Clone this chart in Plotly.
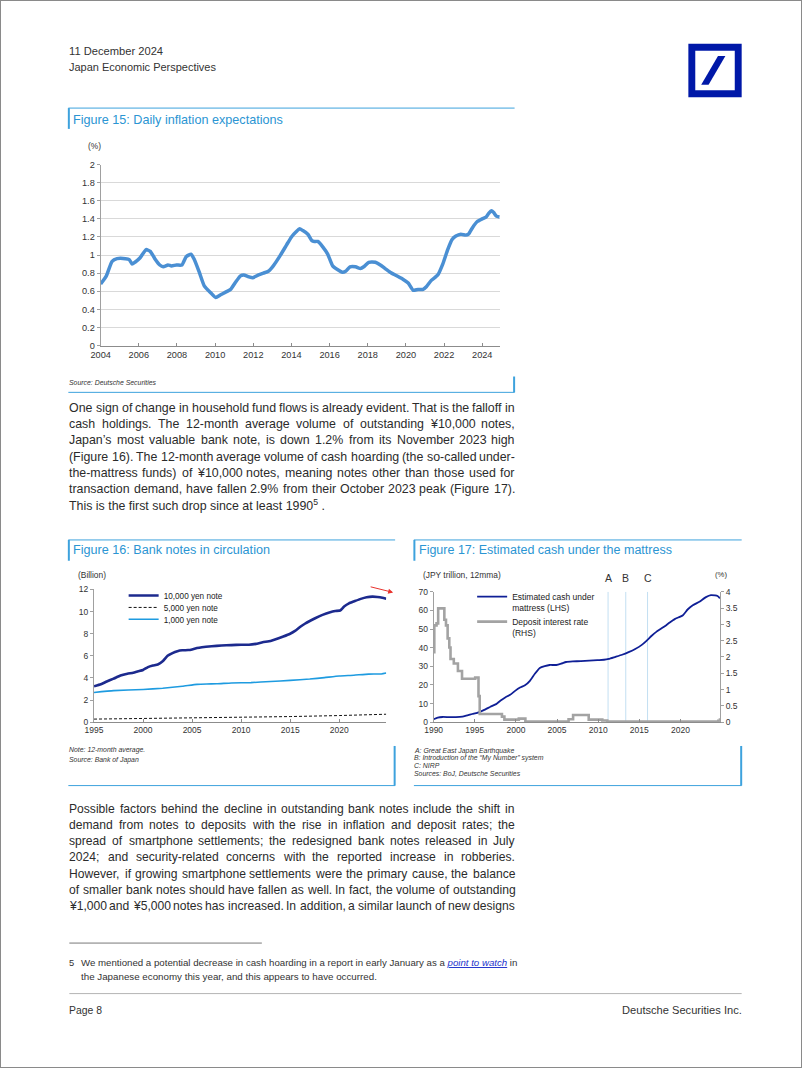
import re
import plotly.graph_objects as go

# ---------------- DATA ----------------
# Figure 15: daily inflation expectations (%)
infl_year = [2004.0, 2004.3, 2004.6, 2004.86, 2005.3, 2005.5, 2005.65, 2005.8, 2006.07, 2006.38,
             2006.6, 2006.84, 2007.1, 2007.28, 2007.53, 2007.71, 2007.97, 2008.26, 2008.48, 2008.74,
             2008.91, 2009.17, 2009.43, 2009.78, 2010.03, 2010.29, 2010.55, 2010.81, 2011.07, 2011.33,
             2011.5, 2011.76, 2011.97, 2012.28, 2012.53, 2012.79, 2013.05, 2013.4, 2013.74, 2014.0,
             2014.26, 2014.43, 2014.6, 2014.86, 2015.07, 2015.2, 2015.38, 2015.64, 2015.9, 2016.16,
             2016.41, 2016.67, 2016.84, 2017.07, 2017.36, 2017.62, 2017.79, 2018.05, 2018.4, 2018.66,
             2018.91, 2019.17, 2019.52, 2019.86, 2020.12, 2020.38, 2020.64, 2020.9, 2021.07, 2021.33,
             2021.67, 2021.93, 2022.19, 2022.41, 2022.62, 2022.88, 2023.14, 2023.28, 2023.48, 2023.74,
             2024.0, 2024.2, 2024.34, 2024.48, 2024.6, 2024.74, 2024.91]
infl_value = [0.68, 0.77, 0.93, 0.96, 0.96, 0.95, 0.90, 0.92, 0.97, 1.06,
              1.04, 0.96, 0.89, 0.87, 0.89, 0.88, 0.89, 0.89, 0.98, 1.01,
              0.95, 0.81, 0.66, 0.58, 0.53, 0.56, 0.59, 0.62, 0.70, 0.77,
              0.78, 0.76, 0.75, 0.78, 0.80, 0.82, 0.88, 0.99, 1.11, 1.20,
              1.26, 1.29, 1.27, 1.23, 1.16, 1.15, 1.15, 1.09, 1.01, 0.88,
              0.84, 0.81, 0.82, 0.87, 0.87, 0.85, 0.87, 0.92, 0.92, 0.89,
              0.85, 0.81, 0.77, 0.73, 0.69, 0.61, 0.62, 0.62, 0.65, 0.72,
              0.78, 0.90, 1.06, 1.17, 1.21, 1.23, 1.22, 1.23, 1.30, 1.37,
              1.40, 1.42, 1.46, 1.49, 1.47, 1.43, 1.42]
infl_xticks = [2004, 2006, 2008, 2010, 2012, 2014, 2016, 2018, 2020, 2022, 2024]
infl_yticks = [0, 0.2, 0.4, 0.6, 0.8, 1.0, 1.2, 1.4, 1.6, 1.8, 2.0]
infl_yticktext = ["0", "0.2", "0.4", "0.6", "0.8", "1", "1.2", "1.4", "1.6", "1.8", "2"]

# Figure 16: bank notes in circulation (billion notes, 12-month average)
n10000_year = [1995.0, 1995.7, 1996.3, 1997.0, 1997.7, 1998.4, 1999.0, 1999.5, 2000.0, 2000.5,
               2001.0, 2001.5, 2002.0, 2002.5, 2003.0, 2003.5, 2004.0, 2004.6, 2005.0, 2005.5,
               2006.0, 2007.0, 2008.0, 2009.0, 2010.0, 2010.8, 2011.5, 2012.2, 2013.0, 2013.6,
               2014.3, 2015.0, 2015.5, 2016.0, 2016.5, 2017.0, 2017.6, 2018.3, 2019.0, 2019.6,
               2020.1, 2020.5, 2021.0, 2021.6, 2022.2, 2022.8, 2023.4, 2023.9, 2024.4, 2024.8]
n10000_val = [3.25, 3.43, 3.68, 3.94, 4.22, 4.38, 4.47, 4.6, 4.72, 4.98,
              5.12, 5.22, 5.5, 6.0, 6.25, 6.42, 6.5, 6.52, 6.58, 6.7,
              6.78, 6.87, 6.93, 6.97, 7.0, 7.0, 7.08, 7.22, 7.35, 7.52,
              7.75, 8.0, 8.25, 8.6, 8.9, 9.15, 9.42, 9.7, 9.92, 10.05,
              10.1, 10.45, 10.75, 10.95, 11.15, 11.3, 11.35, 11.32, 11.25, 11.15]
n5000_year = [1995.0, 2000.0, 2005.0, 2010.0, 2015.0, 2020.0, 2024.8]
n5000_val = [0.28, 0.33, 0.41, 0.46, 0.51, 0.60, 0.72]
n1000_year = [1995.0, 1997.0, 2000.0, 2002.0, 2004.0, 2005.5, 2006.5, 2007.5, 2009.0, 2011.0,
              2013.0, 2015.0, 2017.0, 2018.5, 2020.0, 2021.5, 2023.0, 2024.3, 2024.8]
n1000_val = [2.69, 2.85, 2.96, 3.07, 3.25, 3.42, 3.46, 3.47, 3.55, 3.58,
             3.68, 3.78, 3.90, 4.03, 4.18, 4.25, 4.35, 4.36, 4.44]
notes_xticks = [1995, 2000, 2005, 2010, 2015, 2020]
notes_yticks = [0, 2, 4, 6, 8, 10, 12]
notes_names = ["10,000 yen note", "5,000 yen note", "1,000 yen note"]

# Figure 17: estimated cash under the mattress (JPY tn, LHS) and deposit rate (%, RHS)
cash_year = [1990.0, 1990.5, 1991.1, 1991.9, 1992.7, 1993.5, 1994.1, 1994.7, 1995.3, 1995.7,
             1996.3, 1996.9, 1997.6, 1998.1, 1998.7, 1999.3, 1999.9, 2000.5, 2001.1, 2001.7,
             2002.3, 2002.9, 2003.5, 2004.1, 2004.9, 2005.5, 2006.1, 2006.9, 2007.9, 2008.9,
             2009.9, 2010.7, 2011.3, 2012.1, 2012.9, 2013.7, 2014.5, 2015.3, 2015.9, 2016.5,
             2017.1, 2017.9, 2018.7, 2019.3, 2019.9, 2020.3, 2020.9, 2021.5, 2022.3, 2023.1,
             2023.7, 2024.2, 2024.5, 2024.8]
cash_val = [1.6, 2.5, 2.8, 2.7, 2.7, 3.0, 3.7, 4.4, 5.0, 5.7,
            6.9, 8.3, 9.7, 11.5, 13.3, 14.7, 16.8, 18.6, 19.8, 22.2,
            26.0, 29.1, 30.1, 30.7, 30.7, 31.4, 32.3, 32.6, 32.8, 33.0,
            33.3, 33.5, 34.0, 35.1, 36.2, 37.6, 39.3, 41.5, 43.8, 46.4,
            48.6, 50.9, 53.5, 55.3, 56.5, 57.4, 60.6, 62.7, 64.6, 67.1,
            68.2, 68.0, 67.7, 66.5]
dep_year = [1990.0, 1990.08, 1990.35, 1990.55, 1991.3, 1991.5, 1991.7, 1991.9, 1992.05, 1992.45,
            1992.95, 1993.45, 1995.05, 1995.45, 1995.6, 1998.3, 1998.6, 2000.35, 2001.15, 2006.4,
            2006.95, 2008.85, 2010.5, 2011.1, 2024.6, 2024.8]
dep_rate = [2.15, 2.97, 3.03, 3.49, 3.14, 2.97, 2.57, 2.29, 1.94, 1.80,
            1.57, 1.33, 1.37, 0.80, 0.25, 0.17, 0.08, 0.11, 0.02, 0.09,
            0.22, 0.08, 0.05, 0.02, 0.04, 0.12]
event_year = [2011.2, 2013.35, 2016.0]
event_label = ["A", "B", "C"]
cash_xticks = [1990, 1995, 2000, 2005, 2010, 2015, 2020]
cash_yticks = [0, 10, 20, 30, 40, 50, 60, 70]
rate_yticks = [0, 0.5, 1, 1.5, 2, 2.5, 3, 3.5, 4]
rate_yticktext = ["0", "0.5", "1", "1.5", "2", "2.5", "3", "3.5", "4"]

# ---------------- PAGE GEOMETRY HELPERS ----------------
# The page body keeps the browser's default 8px margin, so the figure is 16px
# smaller than the window and page coordinates are shifted by that margin.
PAGE_W, PAGE_H, OFF = 802, 1068, 8
FW, FH = PAGE_W - 2 * OFF, PAGE_H - 2 * OFF
def px(x): return (x - OFF) / FW
def py(y): return 1 - (y - OFF) / FH

FONT = "Liberation Sans, Arial, Helvetica, sans-serif"
NOTE = 6.9

_AW = {' ': 278, '!': 278, '"': 355, '#': 556, '$': 556, '%': 889, '&': 667, "'": 191, '(': 333,
       ')': 333, '*': 389, '+': 584, ',': 278, '-': 333, '.': 278, '/': 278, ':': 278, ';': 278,
       '?': 556, '@': 1015, '[': 278, ']': 278, '_': 556, '\u2019': 222, '\u2018': 222,
       '\u201c': 333, '\u201d': 333, '\u00a5': 556}
for c in '0123456789':
    _AW[c] = 556
_AW.update({'A': 667, 'B': 667, 'C': 722, 'D': 722, 'E': 667, 'F': 611, 'G': 778, 'H': 722, 'I': 278,
            'J': 500, 'K': 667, 'L': 556, 'M': 833, 'N': 722, 'O': 778, 'P': 667, 'Q': 778, 'R': 722,
            'S': 667, 'T': 611, 'U': 722, 'V': 667, 'W': 944, 'X': 667, 'Y': 667, 'Z': 611})
_AW.update({'a': 556, 'b': 556, 'c': 500, 'd': 556, 'e': 556, 'f': 278, 'g': 556, 'h': 556, 'i': 222,
            'j': 222, 'k': 500, 'l': 222, 'm': 833, 'n': 556, 'o': 556, 'p': 556, 'q': 556, 'r': 333,
            's': 500, 't': 278, 'u': 556, 'v': 500, 'w': 722, 'x': 500, 'y': 500, 'z': 500})

def em(s):
    s = re.sub(r'<[^>]+>', '', s)
    return sum(_AW.get(c, 556) for c in s) / 1000.0

annotations = []
shapes = []

def txt(x, y, s, size, color='#333333', anchor='left', italic=False):
    if italic:
        s = '<i>' + s + '</i>'
    annotations.append(dict(x=px(x), y=py(y), xref='paper', yref='paper', text=s, showarrow=False,
                            xanchor=anchor, yanchor='middle', borderpad=0, borderwidth=0,
                            font=dict(family=FONT, size=size, color=color)))

def fit_txt(x, y, s, width, color='#333333', anchor='left', italic=False):
    txt(x, y, s, width / em(s), color, anchor, italic)

def paragraph(lines, x0, x1, y0, dy, justify_last, cap=20):
    just = lines if justify_last else lines[:-1]
    size = min(cap, (x1 - x0) / max(em(l) for l in just))
    for i, line in enumerate(lines):
        y = y0 + i * dy
        if i == len(lines) - 1 and not justify_last:
            txt(x0, y, line, size, '#2b2b2b')
            continue
        words = line.split(' ')
        wsum = sum(em(w) for w in words) * size
        gap = (x1 - x0 - wsum) / (len(words) - 1)
        x = x0
        for w in words:
            txt(x, y, w, size, '#2b2b2b')
            x += em(w) * size + gap

def hline(x0, x1, y, color, width=1):
    shapes.append(dict(type='line', xref='paper', yref='paper', x0=px(x0), x1=px(x1),
                       y0=py(y), y1=py(y), line=dict(color=color, width=width)))

def vline(x, y0, y1, color, width=1):
    shapes.append(dict(type='line', xref='paper', yref='paper', x0=px(x), x1=px(x),
                       y0=py(y0), y1=py(y1), line=dict(color=color, width=width)))

def rect(x0, y0, x1, y1, fill, line_color='rgba(0,0,0,0)', lw=0):
    shapes.append(dict(type='rect', xref='paper', yref='paper', x0=px(x0), x1=px(x1),
                       y0=py(y1), y1=py(y0), fillcolor=fill, line=dict(color=line_color, width=lw)))

def poly(points, fill):
    path = 'M ' + ' L '.join('%f,%f' % (px(a), py(b)) for a, b in points) + ' Z'
    shapes.append(dict(type='path', xref='paper', yref='paper', path=path, fillcolor=fill,
                       line=dict(width=0)))

def legend_box(x, top, size, **extra):
    d = dict(x=px(x), y=py(top), xanchor='left', yanchor='top', bgcolor='rgba(0,0,0,0)',
             borderwidth=0, itemwidth=30, tracegroupgap=0,
             font=dict(size=size, color='#222222', family=FONT))
    d.update(extra)
    return d

BOX = '#3DA2DD'
TITLE = '#2B95D3'

# ---------------- FIGURE ----------------
fig = go.Figure()

fig.add_trace(go.Scatter(x=infl_year, y=infl_value, mode='lines', xaxis='x', yaxis='y',
                         line=dict(color='#4A8FD3', width=3.5, shape='spline', smoothing=0.5),
                         showlegend=False, hoverinfo='skip'))

# one legend box per series so the rows sit as tightly as in the original
fig.add_trace(go.Scatter(x=n1000_year, y=n1000_val, mode='lines', name=notes_names[2],
                         xaxis='x2', yaxis='y2', legend='legend4',
                         line=dict(color='#1E9BE0', width=1.6, shape='spline', smoothing=0.4)))
fig.add_trace(go.Scatter(x=n5000_year, y=n5000_val, mode='lines', name=notes_names[1],
                         xaxis='x2', yaxis='y2', legend='legend3',
                         line=dict(color='#111111', width=1, dash='3px,2px')))
fig.add_trace(go.Scatter(x=n10000_year, y=n10000_val, mode='lines', name=notes_names[0],
                         xaxis='x2', yaxis='y2', legend='legend',
                         line=dict(color='#1C2A8E', width=2.6, shape='spline', smoothing=0.4)))

for ey in event_year:
    fig.add_trace(go.Scatter(x=[ey, ey], y=[0, 70], mode='lines', xaxis='x3', yaxis='y3',
                             line=dict(color='#C3DFF2', width=1), showlegend=False, hoverinfo='skip'))
fig.add_trace(go.Scatter(x=dep_year, y=dep_rate, mode='lines', name='Deposit interest rate<br>(RHS)',
                         xaxis='x3', yaxis='y4', legend='legend2', legendrank=2,
                         line=dict(color='#A3A3A3', width=2.6, shape='hv')))
fig.add_trace(go.Scatter(x=cash_year, y=cash_val, mode='lines', name='Estimated cash under<br>mattress (LHS)',
                         xaxis='x3', yaxis='y3', legend='legend2', legendrank=1,
                         line=dict(color='#0F1F96', width=1.8, shape='spline', smoothing=0.4)))

def xax(d0, d1, rng, tickvals, anchor, size):
    return dict(domain=[px(d0), px(d1)], range=rng, tickvals=tickvals, anchor=anchor,
                showline=True, linecolor='#8C8C8C', linewidth=1, ticks='inside', ticklen=3,
                tickcolor='#8C8C8C', showgrid=False, zeroline=False, fixedrange=True,
                tickfont=dict(size=size, color='#333333', family=FONT))

def yax(top, bottom, rng, tickvals, ticktext, anchor, size, grid=False, side='left'):
    return dict(domain=[py(bottom), py(top)], range=rng, tickvals=tickvals, ticktext=ticktext,
                anchor=anchor, side=side, showline=True, linecolor='#A0A0A0', linewidth=1,
                ticks='outside', ticklen=3, tickcolor='#A0A0A0', showgrid=grid,
                gridcolor='#D9D9D9', gridwidth=1, zeroline=False, fixedrange=True,
                tickfont=dict(size=size, color='#333333', family=FONT))

layout = dict(
    width=FW, height=FH, autosize=False, margin=dict(l=0, r=0, t=0, b=0, pad=0),
    paper_bgcolor='white', plot_bgcolor='white', font=dict(family=FONT, color='#333333'),
    xaxis=xax(91.7, 496, [2004, 2024.92], infl_xticks, 'y', 9.2),
    yaxis=yax(161, 343.7, [0, 2], infl_yticks, infl_yticktext, 'x', 9.2, grid=True),
    xaxis2=xax(85, 381, [1995, 2024.8], notes_xticks, 'y2', 8.5),
    yaxis2=yax(590, 724, [0, 12], notes_yticks, [str(v) for v in notes_yticks], 'x2', 8.5),
    xaxis3=xax(429, 719, [1990, 2024.8], cash_xticks, 'y3', 8.5),
    yaxis3=yax(592.3, 724, [0, 70], cash_yticks, [str(v) for v in cash_yticks], 'x3', 8.5),
    legend=legend_box(115, 581.5, 8.2),
    legend3=legend_box(115, 593.5, 8.2),
    legend4=legend_box(115, 605.5, 8.2),
    legend2=legend_box(468, 585, 8.5, valign='top'),
)
y4 = yax(592.3, 724, [0, 4], rate_yticks, rate_yticktext, 'x3', 8.5, side='right')
y4['overlaying'] = 'y3'
layout['yaxis4'] = y4

# ---------------- PAGE DECORATION & TEXT ----------------
fit_txt(60, 46, '11 December 2024', 95)
fit_txt(60, 63, 'Japan Economic Perspectives', 147)
rect(687, 39, 741, 93, '#0018A8')
rect(694, 46, 734, 86, 'white')
poly([(700, 80.5), (707.5, 80.5), (724.5, 51.5), (717, 51.5)], '#0018A8')

hline(59, 511, 104, BOX, 1)
vline(59.5, 104, 125, BOX, 2)
vline(510.5, 375, 391, BOX, 2)
hline(59, 511, 391, BOX, 1)
fit_txt(64, 116, 'Figure 15: Daily inflation expectations', 210, TITLE)
fit_txt(79, 142, '(%)', 13)
txt(60, 381, 'Source: Deutsche Securities', NOTE, italic=True)

para1 = [
    "One sign of change in household fund flows is already evident. That is the falloff in",
    "cash holdings. The 12-month average volume of outstanding \u00a510,000 notes,",
    "Japan\u2019s most valuable bank note, is down 1.2% from its November 2023 high",
    "(Figure 16). The 12-month average volume of cash hoarding (the so-called under-",
    "the-mattress funds) of \u00a510,000 notes, meaning notes other than those used for",
    "transaction demand, have fallen 2.9% from their October 2023 peak (Figure 17).",
    "This is the first such drop since at least 1990<sup>5</sup> .",
]
paragraph(para1, 60, 511, 407, 16.3, justify_last=False)

hline(59, 390, 540, BOX, 1)
vline(59.5, 540, 561, BOX, 2)
vline(389.5, 748, 788, BOX, 2)
hline(59, 390, 788, BOX, 1)
fit_txt(64, 550, 'Figure 16: Bank notes in circulation', 197, TITLE)
fit_txt(69, 575, '(Billion)', 28)
txt(60, 752, 'Note: 12-month average.', NOTE, italic=True)
txt(60, 762, 'Source: Bank of Japan', NOTE, italic=True)
annotations.append(dict(x=px(388), y=py(593), xref='paper', yref='paper', text='', showarrow=True,
                        ax=-24, ay=-6, arrowhead=2, arrowsize=1, arrowwidth=1, arrowcolor='#E8322D'))

hline(409, 741, 540, BOX, 1)
vline(409.5, 540, 561, BOX, 2)
vline(740.5, 748, 788, BOX, 2)
hline(409, 741, 788, BOX, 1)
fit_txt(414, 550, 'Figure 17: Estimated cash under the mattress', 253, TITLE)
fit_txt(418, 575, '(JPY trillion, 12mma)', 78)
fit_txt(714, 575, '(%)', 12)
for ey, lab in zip(event_year, event_label):
    annotations.append(dict(x=ey, y=py(578), xref='x3', yref='paper', text=lab, showarrow=False,
                            xanchor='center', yanchor='middle',
                            font=dict(family=FONT, size=10.5, color='#333333')))
txt(409, 753, 'A: Great East Japan Earthquake', NOTE, italic=True)
txt(409, 760.5, 'B: Introduction of the \u201cMy Number\u201d system', NOTE, italic=True)
txt(409, 768, 'C: NIRP', NOTE, italic=True)
txt(409, 775.5, 'Sources: BoJ, Deutsche Securities', NOTE, italic=True)

para2 = [
    "Possible factors behind the decline in outstanding bank notes include the shift in",
    "demand from notes to deposits with the rise in inflation and deposit rates; the",
    "spread of smartphone settlements; the redesigned bank notes released in July",
    "2024; and security-related concerns with the reported increase in robberies.",
    "However, if growing smartphone settlements were the primary cause, the balance",
    "of smaller bank notes should have fallen as well. In fact, the volume of outstanding",
    "\u00a51,000 and \u00a55,000 notes has increased. In addition, a similar launch of new designs",
]
paragraph(para2, 60, 511, 812, 16.2, justify_last=True)

hline(60, 255, 947, '#555555', 0.8)
fit_txt(60, 967, '5', 5.2)
fn1 = ("We mentioned a potential decrease in cash hoarding in a report in early January as a "
       "<span style='color:#2233CC'><i><u>point to watch</u></i></span> in")
fit_txt(72, 967, fn1, 437)
fit_txt(72, 981, 'the Japanese economy this year, and this appears to have occurred.', 297)

hline(60, 741, 998, '#B5B5B5', 1)
fit_txt(60, 1015, 'Page 8', 33)
fit_txt(741, 1015, 'Deutsche Securities Inc.', 120, anchor='right')

layout['annotations'] = annotations
layout['shapes'] = shapes
fig.update_layout(**layout)

# thin grey page frame at the window edge (does not move the figure)
post = "document.documentElement.style.boxShadow='inset 0 0 0 1px #8A8A8A';"
fig.write_html("out.html", include_plotlyjs=True, full_html=True,
               config={'displayModeBar': False}, post_script=post)
